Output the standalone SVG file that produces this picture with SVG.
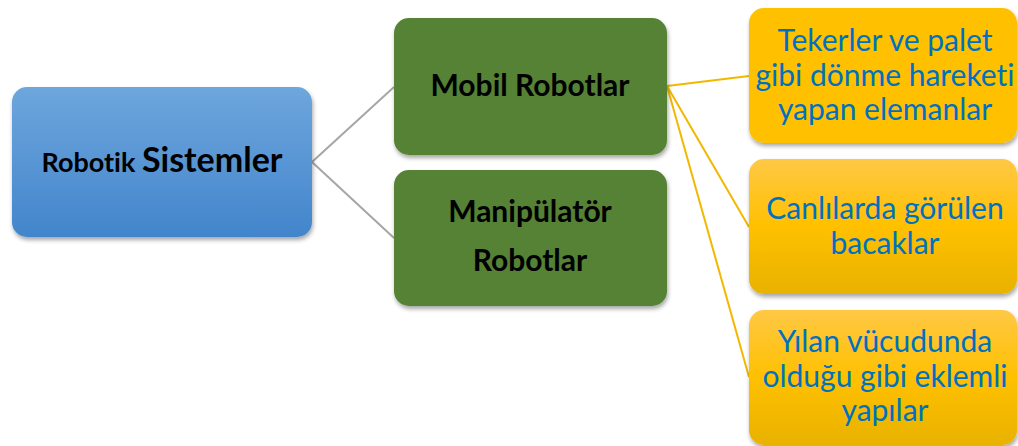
<svg xmlns="http://www.w3.org/2000/svg" width="1018" height="446" viewBox="0 0 1018 446">
<style>
.t{font-family:Lato,"Open Sans",sans-serif;text-anchor:middle;font-variant-ligatures:none}
.b{font-weight:bold;fill:#000}
.y{fill:#0070C0;font-size:30px}
</style>
<defs>
<linearGradient id="gb" x1="0" y1="0" x2="0" y2="1"><stop offset="0" stop-color="#6EA6DD"/><stop offset="1" stop-color="#4285CC"/></linearGradient>
<linearGradient id="gy" x1="0" y1="0" x2="0" y2="1"><stop offset="0" stop-color="#FFC845"/><stop offset="0.5" stop-color="#FFC000"/><stop offset="1" stop-color="#E8B200"/></linearGradient>
<filter id="sh" x="-10%" y="-10%" width="120%" height="130%"><feDropShadow dx="1" dy="3" stdDeviation="2" flood-color="#000" flood-opacity="0.35"/></filter>
</defs>
<rect width="1018" height="446" fill="#fff"/>
<g id="connectors" fill="none" stroke-width="2">
<line x1="312" y1="162" x2="394" y2="87" stroke="#A6A6A6"/>
<line x1="312" y1="162" x2="394" y2="238" stroke="#A6A6A6"/>
<line x1="667" y1="86" x2="749" y2="76" stroke="#F2B800"/>
<line x1="667" y1="86" x2="749" y2="227" stroke="#F2B800"/>
<line x1="667" y1="86" x2="749" y2="377" stroke="#F2B800"/>
</g>
<g id="robotik">
<rect x="12" y="87" width="300" height="150" rx="15" fill="url(#gb)" filter="url(#sh)"/>
<text class="t b" x="162" y="172"><tspan font-size="27">Robotik </tspan><tspan font-size="34">Sistemler</tspan></text>
</g>
<g id="mobil">
<rect x="394" y="18" width="273" height="137" rx="15" fill="#548235" filter="url(#sh)"/>
<text class="t b" x="530" y="96" font-size="30">Mobil Robotlar</text>
</g>
<g id="manipulator">
<rect x="394" y="170" width="273" height="136" rx="15" fill="#548235" filter="url(#sh)"/>
<text class="t b" x="530" y="222" font-size="30">Manipülatör</text>
<text class="t b" x="530" y="271" font-size="30">Robotlar</text>
</g>
<g id="tekerler">
<rect x="749" y="8" width="268" height="135" rx="15" fill="#FFC000" filter="url(#sh)"/>
<text class="t y" x="885" y="51">Tekerler ve palet</text>
<text class="t y" x="885" y="86">gibi dönme hareketi</text>
<text class="t y" x="885" y="120">yapan elemanlar</text>
</g>
<g id="bacaklar">
<rect x="749" y="159" width="268" height="135" rx="15" fill="url(#gy)" filter="url(#sh)"/>
<text class="t y" x="885" y="219">Canlılarda görülen</text>
<text class="t y" x="885" y="254">bacaklar</text>
</g>
<g id="yilan">
<rect x="749" y="310" width="268" height="135" rx="15" fill="url(#gy)" filter="url(#sh)"/>
<text class="t y" x="885" y="352">Yılan vücudunda</text>
<text class="t y" x="885" y="387">olduğu gibi eklemli</text>
<text class="t y" x="885" y="421">yapılar</text>
</g>
</svg>
